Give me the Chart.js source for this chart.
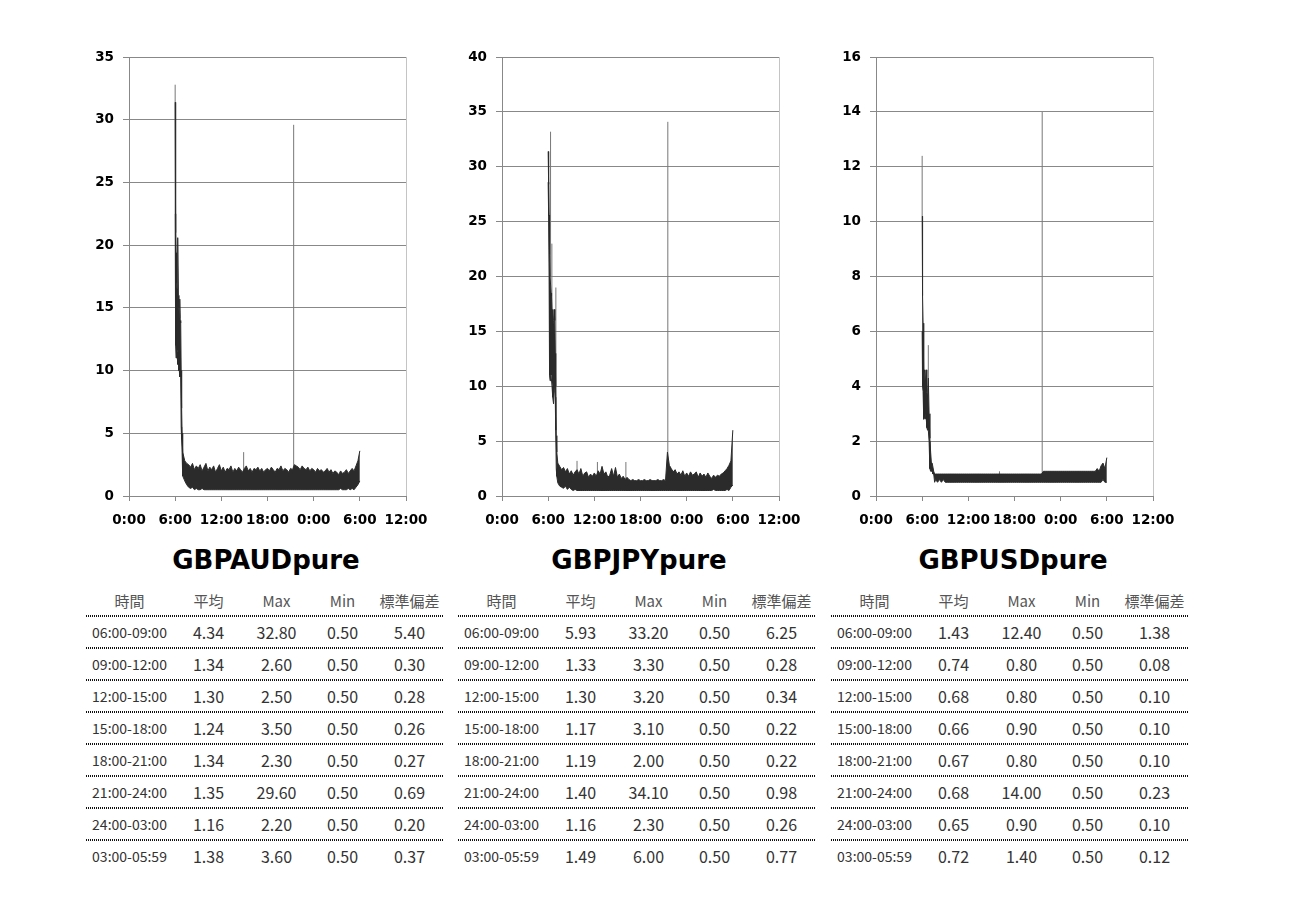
<!DOCTYPE html>
<html>
<head>
<meta charset="utf-8">
<script src="https://cdn.jsdelivr.net/npm/chart.js@4.4.1/dist/chart.umd.min.js"></script>
<style>
body { margin: 0; background: #fff; }
#wrap { position: relative; width: 1291px; height: 913px; overflow: hidden; }
.chartBox { position: absolute; top: 40px; width: 385px; height: 500px; }
.title { position: absolute; top: 541px; width: 300px; text-align: center; font: bold 26px 'DejaVu Sans', sans-serif; color: #000; line-height: 38px; }
.tbl { position: absolute; top: 584px; width: 357px; font-family: 'Noto Sans CJK JP', 'Noto Sans', sans-serif; }
.row { position: relative; display: flex; height: 32px; align-items: center; }
.row.data::before { content: ''; position: absolute; left: 0; right: 0; top: -1px; height: 2px;
  background: repeating-linear-gradient(90deg, #111 0 1px, transparent 1px 2px); }
.row div { text-align: center; }
.c0 { width: 87px; } .c1 { width: 71px; } .c2 { width: 65px; } .c3 { width: 67px; } .c4 { width: 67px; }
.head div { font-size: 15px; color: #555; }
.data div { font-size: 16px; color: #333; }
.data .c0 { font-size: 14px; }
</style>
</head>
<body>
<div id="wrap">
  <div class="chartBox" style="left:59px"><canvas id="audChart" width="385" height="500"></canvas></div>
  <div class="chartBox" style="left:432px"><canvas id="jpyChart" width="385" height="500"></canvas></div>
  <div class="chartBox" style="left:806px"><canvas id="usdChart" width="385" height="500"></canvas></div>
  <div class="title" style="left:116px">GBPAUDpure</div>
  <div class="title" style="left:489px">GBPJPYpure</div>
  <div class="title" style="left:863px">GBPUSDpure</div>
  <div class="tbl" id="audTable" style="left:86px"></div>
  <div class="tbl" id="jpyTable" style="left:458px"></div>
  <div class="tbl" id="usdTable" style="left:831px"></div>
</div>
<script>
// x axis: hours from 0:00 of day 1 to 12:00 of day 2
const timeLabels = ['0:00', '6:00', '12:00', '18:00', '0:00', '6:00', '12:00'];
const bandStep = 0.25;

// GBPAUD
const audOpenT  = [6.00, 6.04, 6.08, 6.12, 6.18, 6.24, 6.30, 6.36, 6.42, 6.48, 6.54, 6.60, 6.66, 6.72, 6.78, 6.84, 6.90, 6.95];
const audOpenHi = [31.4, 27.5, 21.0, 19.4, 17.0, 16.5, 17.0, 20.6, 16.0, 15.0, 14.2, 15.7, 14.0, 13.8, 10.0, 7.0, 5.0, 4.2];
const audOpenLo = [22.5, 17.0, 12.0, 11.0, 12.0, 11.5, 11.0, 10.5, 11.0, 10.0, 10.0, 9.5, 9.8, 9.5, 5.5, 4.5, 3.5, 2.5];
const audBandStart = 7.0;
const audBandHi = [
    3.5, 2.8, 2.6, 2.5, 2.3, 2.6, 2.1, 2.4, 2.2, 2.5, 2.0, 2.3,
    2.6, 2.0, 2.3, 2.1, 2.4, 1.9, 2.2, 2.5, 2.0, 2.3, 1.9, 2.2,
    2.1, 2.4, 1.9, 2.2, 2.0, 2.3, 2.1, 1.9, 2.2, 2.4, 2.0, 2.2,
    1.9, 2.2, 2.1, 2.3, 2.0, 2.2, 1.9, 2.1, 2.2, 2.0, 2.3, 2.1,
    1.9, 2.2, 2.1, 2.4, 2.0, 2.2, 2.1, 1.9, 2.2, 2.1, 2.5, 2.4,
    2.3, 2.1, 2.4, 2.2, 2.1, 2.3, 2.0, 2.2, 2.1, 1.9, 2.2, 2.0,
    2.1, 1.9, 2.0, 2.2, 1.9, 2.1, 1.8, 2.0, 1.9, 1.7, 2.0, 1.8,
    1.9, 2.1, 1.8, 2.0, 2.2, 2.0, 2.4, 2.8, 3.6
];
const audBandLo = [
    1.6, 1.2, 0.9, 0.7, 0.6, 0.7, 0.5, 0.6, 0.5, 0.5, 0.6, 0.5,
    0.5, 0.5, 0.5, 0.5, 0.5, 0.5, 0.5, 0.5, 0.5, 0.5, 0.5, 0.5,
    0.5, 0.5, 0.5, 0.5, 0.5, 0.5, 0.5, 0.5, 0.5, 0.5, 0.5, 0.5,
    0.5, 0.5, 0.5, 0.5, 0.5, 0.5, 0.5, 0.5, 0.5, 0.5, 0.5, 0.5,
    0.5, 0.5, 0.5, 0.5, 0.5, 0.5, 0.5, 0.5, 0.5, 0.5, 0.5, 0.5,
    0.5, 0.5, 0.5, 0.5, 0.5, 0.5, 0.5, 0.5, 0.5, 0.5, 0.5, 0.5,
    0.5, 0.5, 0.5, 0.5, 0.5, 0.5, 0.5, 0.5, 0.5, 0.5, 0.6, 0.5,
    0.5, 0.5, 0.6, 0.5, 0.6, 0.5, 0.7, 0.9, 1.2
];
const audSpikeT    = [6.0, 14.9, 21.4];
const audSpikeBase = [22.5, 2.0, 2.2];
const audSpikeV    = [32.8, 3.5, 29.6];

// GBPJPY
const jpyOpenT  = [6.00, 6.06, 6.12, 6.18, 6.25, 6.31, 6.38, 6.44, 6.50, 6.56, 6.62, 6.70, 6.78, 6.86, 6.92, 6.98, 7.05, 7.12];
const jpyOpenHi = [31.4, 28.4, 25.6, 22.0, 20.0, 20.0, 18.5, 18.2, 17.0, 16.0, 15.5, 16.0, 17.0, 16.0, 13.0, 10.0, 5.5, 4.0];
const jpyOpenLo = [28.6, 25.5, 20.0, 11.0, 10.5, 11.0, 11.0, 11.0, 10.0, 10.0, 9.0, 8.4, 9.5, 10.0, 9.0, 6.0, 2.5, 1.8];
const jpyBandStart = 7.25;
const jpyBandHi = [
    3.0, 2.7, 2.4, 2.6, 2.2, 2.5, 2.0, 2.3, 1.9, 2.2, 2.4,
    2.0, 2.5, 1.8, 2.1, 2.2, 1.7, 2.0, 1.8, 2.1, 1.8, 2.3, 2.0,
    2.7, 2.0, 2.2, 1.7, 1.9, 2.5, 1.8, 2.6, 1.7, 2.0, 1.6, 1.8,
    1.5, 1.7, 1.5, 1.4, 1.5, 1.4, 1.4, 1.5, 1.4, 1.4, 1.5, 1.4,
    1.4, 1.5, 1.4, 1.4, 1.4, 1.5, 1.4, 1.4, 1.5, 1.4, 4.0, 2.8,
    2.5, 2.2, 2.4, 2.0, 2.2, 1.9, 2.3, 1.8, 2.1, 1.8, 2.2, 1.9,
    2.0, 2.2, 1.7, 2.1, 1.8, 2.0, 1.7, 2.1, 1.8, 1.6, 1.9, 1.7,
    1.9, 1.8, 2.0, 2.1, 2.3, 2.5, 2.8, 3.2, 6.0
];
const jpyBandLo = [
    1.2, 0.9, 0.8, 0.7, 0.9, 0.6, 0.8, 0.6, 0.5, 0.6, 0.5,
    0.5, 0.5, 0.5, 0.5, 0.5, 0.5, 0.5, 0.5, 0.5, 0.5, 0.5, 0.5,
    0.5, 0.5, 0.5, 0.5, 0.5, 0.5, 0.5, 0.5, 0.5, 0.5, 0.5, 0.5,
    0.5, 0.5, 0.5, 0.5, 0.5, 0.5, 0.5, 0.5, 0.5, 0.5, 0.5, 0.5,
    0.5, 0.5, 0.5, 0.5, 0.5, 0.5, 0.5, 0.5, 0.5, 0.5, 0.5, 0.5,
    0.5, 0.5, 0.5, 0.5, 0.5, 0.5, 0.5, 0.5, 0.5, 0.5, 0.5, 0.5,
    0.5, 0.5, 0.5, 0.5, 0.5, 0.5, 0.5, 0.5, 0.5, 0.5, 0.6, 0.5,
    0.5, 0.5, 0.5, 0.5, 0.5, 0.6, 0.5, 0.8, 1.0
];
const jpySpikeT    = [6.31, 6.48, 7.0, 9.75, 12.4, 16.1, 21.55];
const jpySpikeBase = [20.0, 12.0, 6.0, 2.2, 2.0, 1.5, 1.5];
const jpySpikeV    = [33.2, 23.0, 19.0, 3.2, 3.1, 3.1, 34.1];

// GBPUSD
const usdOpenT  = [6.00, 6.05, 6.12, 6.20, 6.30, 6.40, 6.50, 6.60, 6.70, 6.80, 6.90, 7.00, 7.10, 7.20, 7.30, 7.40, 7.50, 7.62];
const usdOpenHi = [10.2, 7.3, 6.3, 4.5, 4.6, 4.0, 4.6, 3.8, 3.6, 4.3, 3.0, 2.1, 1.6, 1.2, 1.2, 1.2, 0.9, 0.8];
const usdOpenLo = [6.0, 4.0, 3.8, 2.8, 2.9, 2.8, 3.0, 2.5, 2.4, 2.4, 2.0, 1.0, 0.9, 0.9, 0.9, 0.8, 0.8, 0.5];
const usdBandStart = 7.75;
const usdBandHi = [
    0.8, 0.8, 0.8, 0.8, 0.8, 0.8, 0.8, 0.8, 0.8, 0.8, 0.8, 0.8, 0.8,
    0.8, 0.8, 0.8, 0.8, 0.8, 0.8, 0.8, 0.8, 0.8, 0.8, 0.8, 0.8,
    0.8, 0.8, 0.8, 0.8, 0.8, 0.8, 0.8, 0.8, 0.8, 0.8, 0.8, 0.8,
    0.8, 0.8, 0.8, 0.8, 0.8, 0.8, 0.8, 0.8, 0.8, 0.8, 0.8, 0.8,
    0.8, 0.8, 0.8, 0.8, 0.8, 0.8, 0.8, 0.9,
    0.9, 0.9, 0.9, 0.9, 0.9, 0.9, 0.9, 0.9, 0.9, 0.9, 0.9, 0.9,
    0.9, 0.9, 0.9, 0.9, 0.9, 0.9, 0.9, 0.9, 0.9, 0.9, 0.9, 0.9,
    0.9, 0.9, 0.9, 1.0, 0.9, 1.1, 1.2, 1.0, 1.4
];
const usdBandLo = [
    0.6, 0.5, 0.6, 0.5, 0.6, 0.5, 0.5, 0.5, 0.5, 0.5, 0.5, 0.5, 0.5,
    0.5, 0.5, 0.5, 0.5, 0.5, 0.5, 0.5, 0.5, 0.5, 0.5, 0.5, 0.5,
    0.5, 0.5, 0.5, 0.5, 0.5, 0.5, 0.5, 0.5, 0.5, 0.5, 0.5, 0.5,
    0.5, 0.5, 0.5, 0.5, 0.5, 0.5, 0.5, 0.5, 0.5, 0.5, 0.5, 0.5,
    0.5, 0.5, 0.5, 0.5, 0.5, 0.5, 0.5, 0.5,
    0.5, 0.5, 0.5, 0.5, 0.5, 0.5, 0.5, 0.5, 0.5, 0.5, 0.5, 0.5,
    0.5, 0.5, 0.5, 0.5, 0.5, 0.5, 0.5, 0.5, 0.5, 0.5, 0.5, 0.5,
    0.5, 0.5, 0.5, 0.5, 0.5, 0.5, 0.6, 0.5, 0.5
];
const usdSpikeT    = [6.0, 6.8, 16.05, 21.6];
const usdSpikeBase = [10.2, 4.3, 0.8, 0.8];
const usdSpikeV    = [12.4, 5.5, 0.9, 14.0];

// tables
const tableHead = ['時間', '平均', 'Max', 'Min', '標準偏差'];
const periods = ['06:00-09:00', '09:00-12:00', '12:00-15:00', '15:00-18:00', '18:00-21:00', '21:00-24:00', '24:00-03:00', '03:00-05:59'];
const audAvg = [4.34, 1.34, 1.30, 1.24, 1.34, 1.35, 1.16, 1.38];
const audMax = [32.80, 2.60, 2.50, 3.50, 2.30, 29.60, 2.20, 3.60];
const audMin = [0.50, 0.50, 0.50, 0.50, 0.50, 0.50, 0.50, 0.50];
const audStd = [5.40, 0.30, 0.28, 0.26, 0.27, 0.69, 0.20, 0.37];
const jpyAvg = [5.93, 1.33, 1.30, 1.17, 1.19, 1.40, 1.16, 1.49];
const jpyMax = [33.20, 3.30, 3.20, 3.10, 2.00, 34.10, 2.30, 6.00];
const jpyMin = [0.50, 0.50, 0.50, 0.50, 0.50, 0.50, 0.50, 0.50];
const jpyStd = [6.25, 0.28, 0.34, 0.22, 0.22, 0.98, 0.26, 0.77];
const usdAvg = [1.43, 0.74, 0.68, 0.66, 0.67, 0.68, 0.65, 0.72];
const usdMax = [12.40, 0.80, 0.80, 0.90, 0.80, 14.00, 0.90, 1.40];
const usdMin = [0.50, 0.50, 0.50, 0.50, 0.50, 0.50, 0.50, 0.50];
const usdStd = [1.38, 0.08, 0.10, 0.10, 0.10, 0.23, 0.10, 0.12];

const toPoints = (openT, openV, bandStart, bandV) => {
    var pts = openT.map((t, i) => ({ x: t, y: openV[i] }));
    bandV.forEach((v, i) => pts.push({ x: bandStart + i * bandStep, y: v }));
    return pts;
}

const spikePoints = (spikeT, spikeBase, spikeV) => {
    var pts = [];
    for (var i = 0; i < spikeT.length; i++) {
        pts.push({ x: spikeT[i], y: spikeBase[i] }, { x: spikeT[i], y: spikeV[i] }, { x: spikeT[i], y: null });
    }
    return pts;
}

const makeChart = (id, openT, openHi, openLo, bandStart, bandHi, bandLo, spikeT, spikeBase, spikeV, yMax, yStep) => {
    var tickFont = { family: 'DejaVu Sans', weight: 'bold', size: 13.5 };
    return new Chart(id, {
        type: 'line',
        data: {
            datasets: [{
                data: toPoints(openT, openLo, bandStart, bandLo),
                borderColor: '#2b2b2b',
                borderWidth: 1,
                pointRadius: 0,
                fill: false,
                order: 0
            }, {
                data: toPoints(openT, openHi, bandStart, bandHi),
                borderColor: '#2b2b2b',
                backgroundColor: '#2b2b2b',
                borderWidth: 1,
                pointRadius: 0,
                fill: '-1',
                order: 0
            }, {
                data: spikePoints(spikeT, spikeBase, spikeV),
                borderColor: '#777',
                borderWidth: 1,
                pointRadius: 0,
                fill: false,
                spanGaps: false,
                order: 5
            }]
        },
        options: {
            responsive: false,
            animation: false,
            events: [],
            layout: { padding: { top: 17, right: 38, left: 0, bottom: 0 } },
            plugins: { legend: { display: false }, tooltip: { enabled: false } },
            scales: {
                x: {
                    type: 'linear',
                    min: 0,
                    max: 36,
                    afterFit: (scale) => { scale.height = 44; },
                    ticks: {
                        stepSize: 6,
                        autoSkip: false,
                        maxRotation: 0,
                        padding: 11,
                        color: '#000',
                        font: tickFont,
                        callback: (v) => timeLabels[v / 6]
                    },
                    grid: {
                        drawOnChartArea: true,
                        color: (ctx) => (ctx.tick && ctx.tick.value === 36) ? '#c4c4c4' : 'rgba(0,0,0,0)',
                        tickColor: '#888',
                        tickLength: 5
                    },
                    border: { color: '#888' }
                },
                y: {
                    min: 0,
                    max: yMax,
                    afterFit: (scale) => { scale.width = 70; },
                    ticks: {
                        stepSize: yStep,
                        padding: 9,
                        color: '#000',
                        font: tickFont
                    },
                    grid: { color: '#888', tickColor: '#888', tickLength: 6 },
                    border: { color: '#888' }
                }
            }
        }
    });
}

const makeTable = (id, avg, max, min, std) => {
    var html = '<div class="row head">' + tableHead.map((h, i) => '<div class="c' + i + '">' + h + '</div>').join('') + '</div>';
    for (var i = 0; i < periods.length; i++) {
        var cells = [periods[i], avg[i].toFixed(2), max[i].toFixed(2), min[i].toFixed(2), std[i].toFixed(2)];
        html += '<div class="row data">' + cells.map((c, j) => '<div class="c' + j + '">' + c + '</div>').join('') + '</div>';
    }
    document.getElementById(id).innerHTML = html;
}

makeChart('audChart', audOpenT, audOpenHi, audOpenLo, audBandStart, audBandHi, audBandLo, audSpikeT, audSpikeBase, audSpikeV, 35, 5);
makeChart('jpyChart', jpyOpenT, jpyOpenHi, jpyOpenLo, jpyBandStart, jpyBandHi, jpyBandLo, jpySpikeT, jpySpikeBase, jpySpikeV, 40, 5);
makeChart('usdChart', usdOpenT, usdOpenHi, usdOpenLo, usdBandStart, usdBandHi, usdBandLo, usdSpikeT, usdSpikeBase, usdSpikeV, 16, 2);
makeTable('audTable', audAvg, audMax, audMin, audStd);
makeTable('jpyTable', jpyAvg, jpyMax, jpyMin, jpyStd);
makeTable('usdTable', usdAvg, usdMax, usdMin, usdStd);
</script>
</body>
</html>
